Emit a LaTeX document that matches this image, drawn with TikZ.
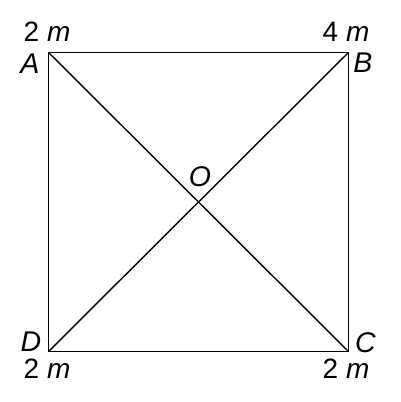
\documentclass[tikz,border=0pt]{standalone}
\usepackage{fontspec}
\setmainfont{Liberation Sans}
\begin{document}
\begin{tikzpicture}[x=1pt,y=-1pt,
  edge/.style={line width=1.8pt, line cap=round, line join=miter},
  diag/.style={line width=1.4pt},
  lbl/.style={inner sep=0pt, font=\fontsize{28.5}{30}\selectfont\itshape},
  mass/.style={inner sep=0pt, font=\fontsize{28}{30}\selectfont}]
\useasboundingbox (0,0) rectangle (400,402);
\coordinate (A) at (48.5,52.5);
\coordinate (B) at (348.5,52.5);
\coordinate (C) at (348.5,351.5);
\coordinate (D) at (48.5,351.5);
\draw[edge] (A) -- (B) -- (C) -- (D) -- cycle;
\draw[diag] (A) -- (C);
\draw[diag] (B) -- (D);
\node[lbl, anchor=base] (la) at (30,73) {A};
\node[lbl, anchor=base] (lb) at (363,72) {B};
\node[lbl, anchor=base] (lc) at (365.5,352) {C};
\node[lbl, anchor=base] (ld) at (31,351) {D};
\node[lbl, anchor=base] (lo) at (200,186) {O};
\node[mass, anchor=base] (ma) at (47,41) {2 \textit{m}};
\node[mass, anchor=base] (mb) at (346,41) {4 \textit{m}};
\node[mass, anchor=base] (md) at (47,378) {2 \textit{m}};
\node[mass, anchor=base] (mc) at (346,378) {2 \textit{m}};
\end{tikzpicture}
\end{document}
